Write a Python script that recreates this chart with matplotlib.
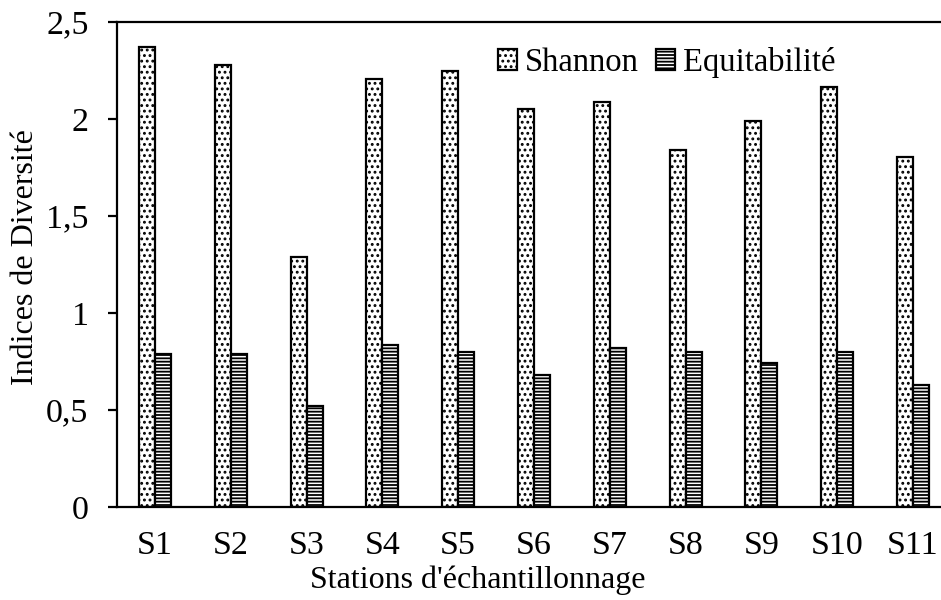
import matplotlib.pyplot as plt
import numpy as np

plt.rcParams['font.family'] = ['Liberation Serif', 'DejaVu Serif']
plt.rcParams['hatch.linewidth'] = 1.3

# Donnees
stations = ['S1', 'S2', 'S3', 'S4', 'S5', 'S6', 'S7', 'S8', 'S9', 'S10', 'S11']
shannon = [2.37, 2.28, 1.29, 2.205, 2.25, 2.05, 2.09, 1.84, 1.99, 2.165, 1.805]
equitabilite = [0.79, 0.79, 0.52, 0.835, 0.80, 0.68, 0.82, 0.80, 0.74, 0.80, 0.63]
yticks = [0, 0.5, 1, 1.5, 2, 2.5]
ytick_labels = ['0', '0,5', '1', '1,5', '2', '2,5']

fig = plt.figure(figsize=(9.41, 6.0), dpi=100)
ax_w = 843 / 941
ax = fig.add_axes([117/941, 1 - 507/600, ax_w, (507 - 22)/600])

x = np.arange(len(stations))
w = 0.211
ax.bar(x - w/2, shannon, w, color='white', edgecolor='black', linewidth=1.6,
       hatch='...', label='Shannon')
ax.bar(x + w/2, equitabilite, w, color='white', edgecolor='black', linewidth=1.6,
       hatch='-----', label='Equitabilité')

ax.set_xlim(-0.5, 10.62)
ax.set_ylim(0, 2.5)
ax.set_yticks(yticks)
ax.set_yticklabels(ytick_labels)
ax.set_xticks(x)
ax.set_xticklabels(stations)
ax.tick_params(axis='y', length=6.5, width=1.6, labelsize=24.5, pad=14)
ax.tick_params(axis='x', length=0, labelsize=24.5, pad=17)
for s in ['left', 'bottom', 'top']:
    ax.spines[s].set_linewidth(1.6)
ax.spines['right'].set_visible(False)

ax.set_ylabel('Indices de Diversité', fontsize=23)
ax.set_xlabel("Stations d'échantillonnage", fontsize=23)
# position des titres d'axes (centres comme sur l'original)
ax.xaxis.set_label_coords(0.428, -0.151)
ax.xaxis.label.set_va('center')
ax.yaxis.set_label_coords(-0.109, 0.515)
ax.yaxis.label.set_va('center')

ax.legend(loc='upper left', bbox_to_anchor=(0.436, 0.975), ncol=2, frameon=False,
          fontsize=23.5, handlelength=0.6, handleheight=0.6, handletextpad=0.25,
          columnspacing=0.5, borderaxespad=0)

fig.savefig('out.png', dpi=100)
